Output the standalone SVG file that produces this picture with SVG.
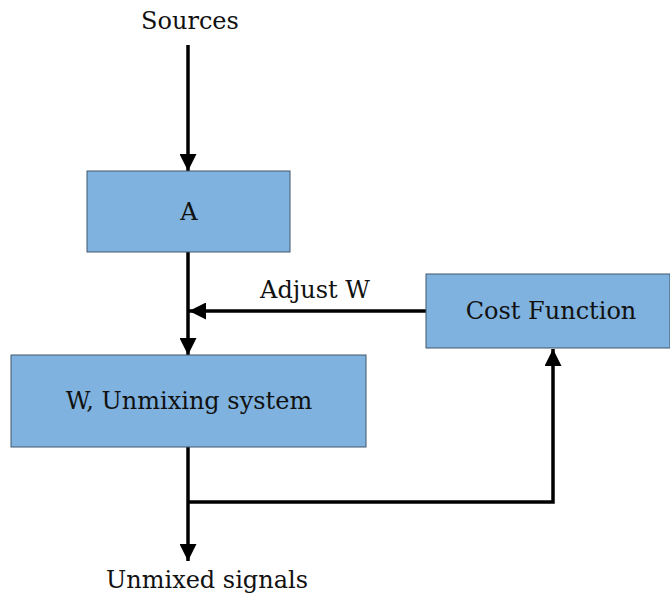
<svg xmlns="http://www.w3.org/2000/svg" width="670" height="596" viewBox="0 0 670 596">
<style>
.box{fill:#7fb2de;stroke:#41576b;stroke-width:1}
.t{font-family:"DejaVu Serif",serif;font-size:24px;fill:#111;text-anchor:middle}
.c{fill:none;stroke:#000;stroke-width:3.5}
</style>
<defs>
<marker id="ah" viewBox="0 0 10 10" refX="10" refY="5" markerUnits="userSpaceOnUse" markerWidth="17" markerHeight="17" orient="auto">
<path d="M0,0 L10,5 L0,10 Z" fill="#000"/>
</marker>
</defs>
<rect width="670" height="596" fill="#fff"/>
<g id="connectors">
<line class="c" x1="188" y1="45" x2="188" y2="171" marker-end="url(#ah)"/>
<line class="c" x1="188" y1="252" x2="188" y2="355" marker-end="url(#ah)"/>
<line class="c" x1="426" y1="311" x2="189" y2="311" marker-end="url(#ah)"/>
<line class="c" x1="188" y1="447" x2="188" y2="561" marker-end="url(#ah)"/>
<polyline class="c" points="188,502 553,502 553,349" marker-end="url(#ah)"/>
<text class="t" x="315" y="298">Adjust W</text>
</g>
<g id="sources"><text class="t" x="190" y="29">Sources</text></g>
<g id="A">
<rect class="box" x="87" y="171" width="203" height="81"/>
<text class="t" x="189" y="220">A</text>
</g>
<g id="cost">
<rect class="box" x="426" y="274" width="244" height="74"/>
<text class="t" x="551" y="319">Cost Function</text>
</g>
<g id="W">
<rect class="box" x="11" y="355" width="355" height="92"/>
<text class="t" x="189" y="409">W, Unmixing system</text>
</g>
<g id="out"><text class="t" x="207" y="588">Unmixed signals</text></g>
</svg>
